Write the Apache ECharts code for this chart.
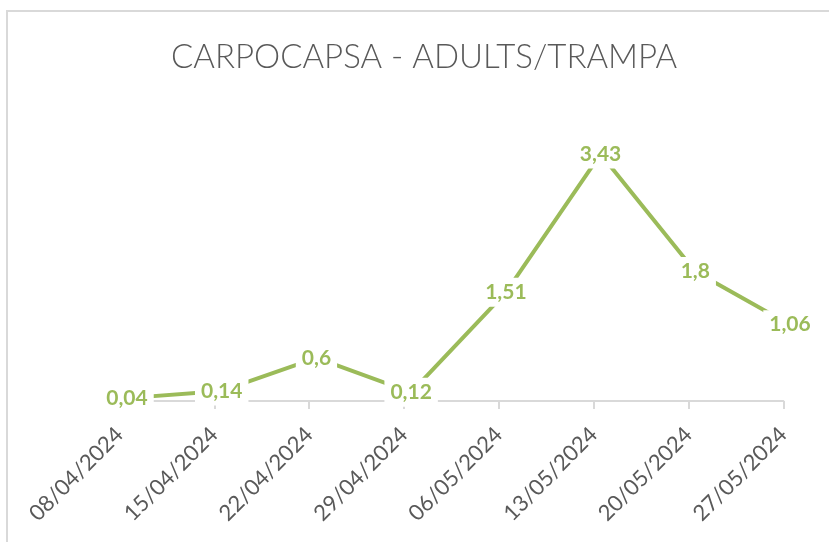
<!DOCTYPE html>
<html><head><meta charset="utf-8">
<script src="https://cdn.jsdelivr.net/npm/echarts@6/dist/echarts.min.js"></script>
<style>html,body{margin:0;padding:0;background:#fff}#c{width:829px;height:542px}</style>
</head><body><div id="c"></div>
<script>
const title = 'CARPOCAPSA - ADULTS/TRAMPA';
const categories = ['08/04/2024','15/04/2024','22/04/2024','29/04/2024','06/05/2024','13/05/2024','20/05/2024','27/05/2024'];
const values = [0.04, 0.14, 0.6, 0.12, 1.51, 3.43, 1.8, 1.06];
const labelTexts = ['0,04','0,14','0,6','0,12','1,51','3,43','1,8','1,06'];

const green = '#9BBB59';
const chart = echarts.init(document.getElementById('c'), null, {renderer:'canvas'});
chart.setOption({
  animation:false,
  backgroundColor:'#fff',
  title:{text:title,left:166,top:36,textStyle:{fontFamily:'Lato',fontWeight:300,fontSize:33,color:'#595959'}},
  graphic:[{type:'rect',shape:{x:7,y:11,width:900,height:600},style:{fill:'none',stroke:'#d9d9d9',lineWidth:2},z:-1}],
  grid:[
    {left:119.5,right:45.7,top:113,bottom:141},
    {left:127,right:39,top:113,bottom:141}
  ],
  xAxis:[
    {type:'category',gridIndex:0,data:categories,boundaryGap:false,
     axisLine:{lineStyle:{color:'#d9d9d9',width:2}},
     axisTick:{show:true,length:8,lineStyle:{color:'#d9d9d9',width:2}},
     axisLabel:{rotate:45,color:'#595959',fontFamily:'Lato',fontSize:22,margin:30,interval:0}},
    {type:'category',gridIndex:1,data:categories,boundaryGap:false,show:false}
  ],
  yAxis:[
    {type:'value',gridIndex:0,min:0,max:4,show:false,splitLine:{show:false}},
    {type:'value',gridIndex:1,min:0,max:4,show:false,splitLine:{show:false}}
  ],
  series:[{
    type:'line',xAxisIndex:1,yAxisIndex:1,data:values,
    symbol:'circle',symbolSize:2,showSymbol:true,itemStyle:{color:'rgba(0,0,0,0)'},
    lineStyle:{color:green,width:4},
    label:{show:true,position:'inside',formatter:p=>labelTexts[p.dataIndex],
      color:green,fontFamily:'Lato',fontWeight:'bold',fontSize:21,
      backgroundColor:'#fff',padding:[4,6]},
    labelLayout:{hideOverlap:false}
  }]
});
</script></body></html>
